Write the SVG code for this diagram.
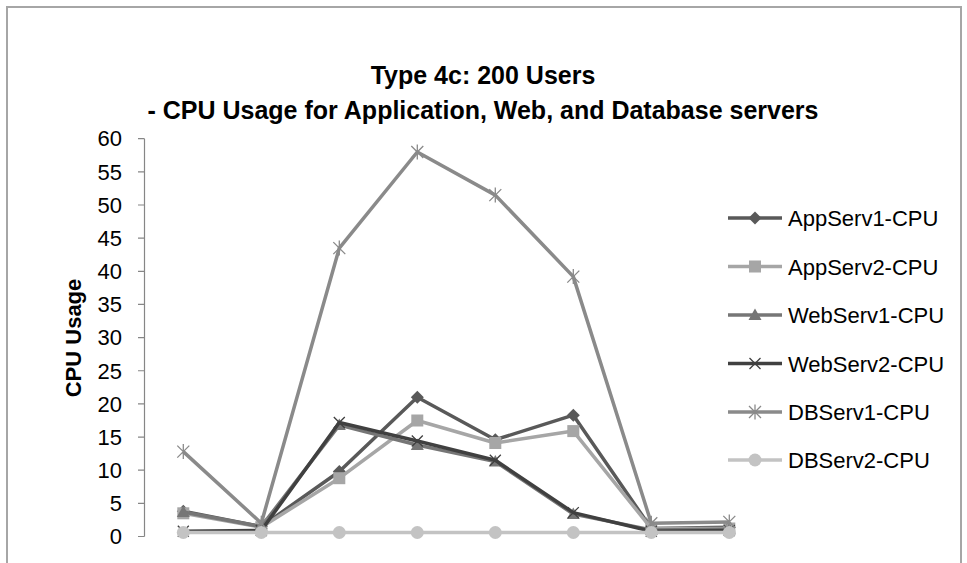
<svg xmlns="http://www.w3.org/2000/svg" width="967" height="563" viewBox="0 0 967 563">
<style>
text{font-family:"Liberation Sans",Arial,sans-serif;fill:#000}
.title{font-size:25px;font-weight:bold;text-anchor:middle}
.tick{font-size:22px;text-anchor:end}
.leg{font-size:22px}
.axis{stroke:#868686;stroke-width:1.2;fill:none}
.ln{fill:none;stroke-width:3.5;stroke-linejoin:round}
</style>
<defs>
<polygon id="mDiamond" points="0,-6.5 6.5,0 0,6.5 -6.5,0" fill="#595959"/>
<rect id="mSquare" x="-6" y="-6" width="12" height="12" fill="#a6a6a6"/>
<polygon id="mTriangle" points="0,-6.5 6.5,5 -6.5,5" fill="#767676"/>
<path id="mX" d="M-5.5,-5.5L5.5,5.5M-5.5,5.5L5.5,-5.5" stroke="#404040" stroke-width="1.3" fill="none"/>
<path id="mStar" d="M-6,-6L6,6M-6,6L6,-6M0,-7.5V7.5" stroke="#8a8a8a" stroke-width="1.3" fill="none"/>
<circle id="mCircle" r="6.5" fill="#c3c3c3"/>
</defs>
<rect width="967" height="563" fill="#fff"/>
<path d="M7,563V7H961V563" fill="none" stroke="#a6a6a6" stroke-width="2"/>
<g id="title">
<text class="title" x="483" y="84">Type 4c: 200 Users</text>
<text class="title" x="483" y="119">- CPU Usage for Application, Web, and Database servers</text>
</g>
<g id="y-axis">
<path class="axis" d="M144.5,138.7V536.5M138,536.5H144.5M138,503.35H144.5M138,470.2H144.5M138,437.05H144.5M138,403.9H144.5M138,370.75H144.5M138,337.6H144.5M138,304.45H144.5M138,271.3H144.5M138,238.15H144.5M138,205H144.5M138,171.85H144.5M138,138.7H144.5"/>
<text class="tick" x="122" y="544">0</text>
<text class="tick" x="122" y="511">5</text>
<text class="tick" x="122" y="478">10</text>
<text class="tick" x="122" y="445">15</text>
<text class="tick" x="122" y="411.5">20</text>
<text class="tick" x="122" y="378.5">25</text>
<text class="tick" x="122" y="345">30</text>
<text class="tick" x="122" y="312">35</text>
<text class="tick" x="122" y="279">40</text>
<text class="tick" x="122" y="245.5">45</text>
<text class="tick" x="122" y="212.5">50</text>
<text class="tick" x="122" y="179.5">55</text>
<text class="tick" x="122" y="146">60</text>
<text transform="translate(81,338) rotate(-90)" style="font-size:22px;font-weight:bold;text-anchor:middle">CPU Usage</text>
</g>
<g id="series-appserv1">
<polyline class="ln" stroke="#595959" points="183.3,511.3 261.3,526.6 339.3,471.5 417.3,397.3 495.3,439.7 573.3,415.2 651.3,528.5 729.3,527.2"/>
<use href="#mDiamond" x="183.3" y="511.3"/><use href="#mDiamond" x="261.3" y="526.6"/><use href="#mDiamond" x="339.3" y="471.5"/><use href="#mDiamond" x="417.3" y="397.3"/><use href="#mDiamond" x="495.3" y="439.7"/><use href="#mDiamond" x="573.3" y="415.2"/><use href="#mDiamond" x="651.3" y="528.5"/><use href="#mDiamond" x="729.3" y="527.2"/>
</g>
<g id="series-appserv2">
<polyline class="ln" stroke="#a6a6a6" points="183.3,513.3 261.3,527.2 339.3,478.2 417.3,420.5 495.3,443 573.3,431.1 651.3,528.5 729.3,528.5"/>
<use href="#mSquare" x="183.3" y="513.3"/><use href="#mSquare" x="261.3" y="527.2"/><use href="#mSquare" x="339.3" y="478.2"/><use href="#mSquare" x="417.3" y="420.5"/><use href="#mSquare" x="495.3" y="443"/><use href="#mSquare" x="573.3" y="431.1"/><use href="#mSquare" x="651.3" y="528.5"/><use href="#mSquare" x="729.3" y="528.5"/>
</g>
<g id="series-webserv1">
<polyline class="ln" stroke="#767676" points="183.3,512 261.3,526.6 339.3,425.1 417.3,445 495.3,461.6 573.3,514 651.3,529.9 729.3,529.2"/>
<use href="#mTriangle" x="183.3" y="512"/><use href="#mTriangle" x="261.3" y="526.6"/><use href="#mTriangle" x="339.3" y="425.1"/><use href="#mTriangle" x="417.3" y="445"/><use href="#mTriangle" x="495.3" y="461.6"/><use href="#mTriangle" x="573.3" y="514"/><use href="#mTriangle" x="651.3" y="529.9"/><use href="#mTriangle" x="729.3" y="529.2"/>
</g>
<g id="series-webserv2">
<polyline class="ln" stroke="#404040" points="183.3,531.2 261.3,530.5 339.3,422.5 417.3,441 495.3,460.3 573.3,512.6 651.3,531.2 729.3,530.5"/>
<use href="#mX" x="183.3" y="531.2"/><use href="#mX" x="261.3" y="530.5"/><use href="#mX" x="339.3" y="422.5"/><use href="#mX" x="417.3" y="441"/><use href="#mX" x="495.3" y="460.3"/><use href="#mX" x="573.3" y="512.6"/><use href="#mX" x="651.3" y="531.2"/><use href="#mX" x="729.3" y="530.5"/>
</g>
<g id="series-dbserv1">
<polyline class="ln" stroke="#8a8a8a" stroke-width="3" points="183.3,451.6 261.3,523.2 339.3,248.1 417.3,152 495.3,195.1 573.3,276.6 651.3,523.2 729.3,521.9"/>
<use href="#mStar" x="183.3" y="451.6"/><use href="#mStar" x="261.3" y="523.2"/><use href="#mStar" x="339.3" y="248.1"/><use href="#mStar" x="417.3" y="152"/><use href="#mStar" x="495.3" y="195.1"/><use href="#mStar" x="573.3" y="276.6"/><use href="#mStar" x="651.3" y="523.2"/><use href="#mStar" x="729.3" y="521.9"/>
</g>
<g id="series-dbserv2">
<polyline class="ln" stroke="#c3c3c3" points="183.3,532.5 729.3,532.5"/>
<use href="#mCircle" x="183.3" y="532.5"/><use href="#mCircle" x="261.3" y="532.5"/><use href="#mCircle" x="339.3" y="532.5"/><use href="#mCircle" x="417.3" y="532.5"/><use href="#mCircle" x="495.3" y="532.5"/><use href="#mCircle" x="573.3" y="532.5"/><use href="#mCircle" x="651.3" y="532.5"/><use href="#mCircle" x="729.3" y="532.5"/>
</g>
<g id="legend">
<line class="ln" stroke="#595959" x1="728" y1="218" x2="782" y2="218"/><use href="#mDiamond" x="755" y="218"/>
<text class="leg" x="788" y="226">AppServ1-CPU</text>
<line class="ln" stroke="#a6a6a6" x1="728" y1="266.5" x2="782" y2="266.5"/><use href="#mSquare" x="755" y="266.5"/>
<text class="leg" x="788" y="274.5">AppServ2-CPU</text>
<line class="ln" stroke="#767676" x1="728" y1="315" x2="782" y2="315"/><use href="#mTriangle" x="755" y="315"/>
<text class="leg" x="788" y="323">WebServ1-CPU</text>
<line class="ln" stroke="#404040" x1="728" y1="363.5" x2="782" y2="363.5"/><use href="#mX" x="755" y="363.5"/>
<text class="leg" x="788" y="371.5">WebServ2-CPU</text>
<line class="ln" stroke="#8a8a8a" stroke-width="3" x1="728" y1="412" x2="782" y2="412"/><use href="#mStar" x="755" y="412"/>
<text class="leg" x="788" y="420">DBServ1-CPU</text>
<line class="ln" stroke="#c3c3c3" x1="728" y1="460" x2="782" y2="460"/><use href="#mCircle" x="755" y="460"/>
<text class="leg" x="788" y="468">DBServ2-CPU</text>
</g>
</svg>
